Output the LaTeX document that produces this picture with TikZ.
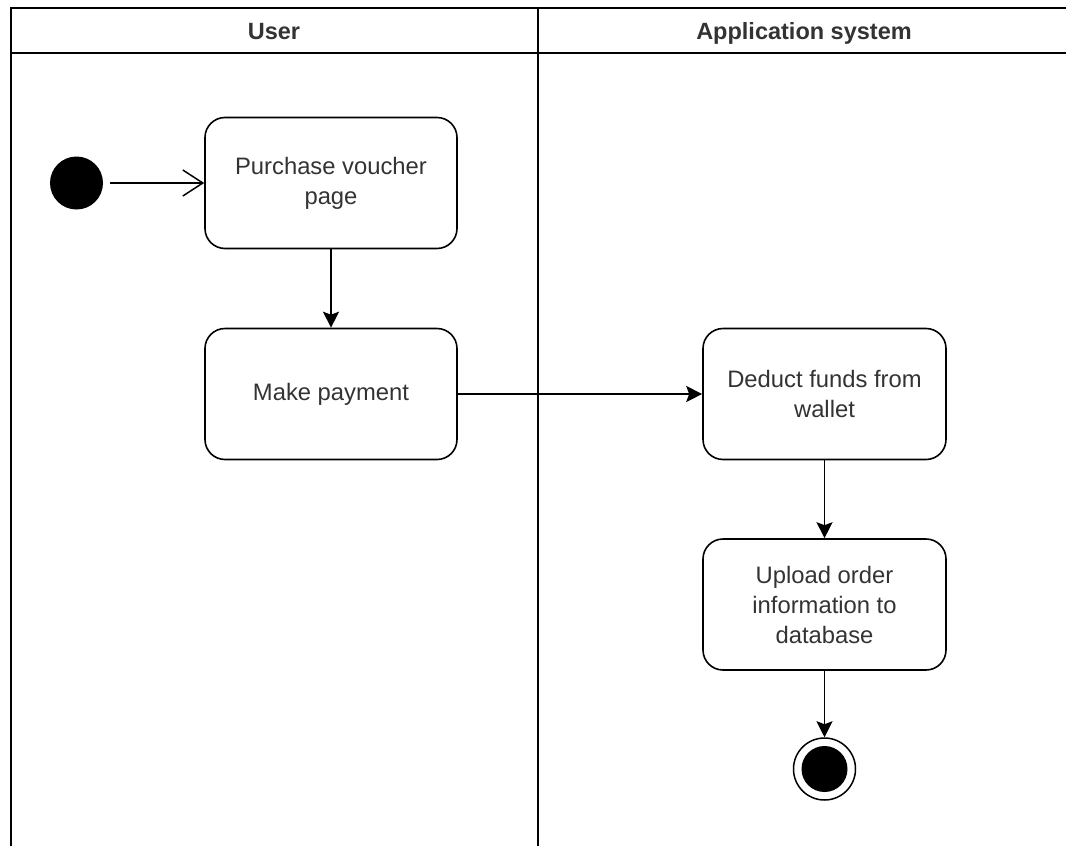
\documentclass[tikz,border=0pt]{standalone}
\usepackage{fontspec}
\setmainfont{Liberation Sans}
\usetikzlibrary{arrows.meta}
\definecolor{txt}{HTML}{333333}
\begin{document}
\begin{tikzpicture}[x=1pt,y=-1pt,
  lane/.style={draw=black,line width=1.6pt},
  act/.style={draw=black,line width=1.6pt,rounded corners=20pt,minimum width=252pt,minimum height=131pt,align=center,text=txt,font=\fontsize{23.8}{30}\selectfont,inner sep=0pt},
  actb/.style={act,minimum width=243pt},
  hdr/.style={text=txt,font=\bfseries\fontsize{23.5}{26}\selectfont,inner sep=0pt,anchor=base},
  flow/.style={draw=black,line width=1.3pt,-{Stealth[length=16pt,width=16pt,inset=3pt]}},
  openflow/.style={draw=black,line width=1.3pt,-{Straight Barb[length=20pt,width=26pt,line width=1.5pt]}},
]
\useasboundingbox (0,0) rectangle (1066,846);
% swimlanes
\draw[lane] (11,846) -- (11,8) -- (1066,8);
\draw[lane] (11,53) -- (1066,53);
\draw[lane] (538,8) -- (538,846);
\node[hdr] (huser) at (274,39) {User};
\node[hdr] (happ) at (804,39) {Application system};
% nodes
\node[circle,fill=black,minimum size=53pt,inner sep=0pt] (start) at (76.5,183) {};
\node[act] (purchase) at (331,183) {Purchase voucher\\page};
\node[act] (pay) at (331,394) {Make payment};
\node[actb] (deduct) at (824.5,394) {Deduct funds from\\wallet};
\node[actb] (upload) at (824.5,604.5) {Upload order\\information to\\database};
\node[circle,draw=black,line width=1.5pt,minimum size=62pt,inner sep=0pt] (end) at (824.5,769) {};
\node[circle,fill=black,minimum size=46pt,inner sep=0pt] (endin) at (824.5,769) {};
% connectors
\draw[openflow] (start.east) ++(7,0) -- (purchase.west);
\draw[flow] (purchase) -- (pay);
\draw[flow] (pay) -- (deduct);
\draw[flow] (deduct) -- (upload);
\draw[flow] (upload) -- (end);
\end{tikzpicture}
\end{document}
